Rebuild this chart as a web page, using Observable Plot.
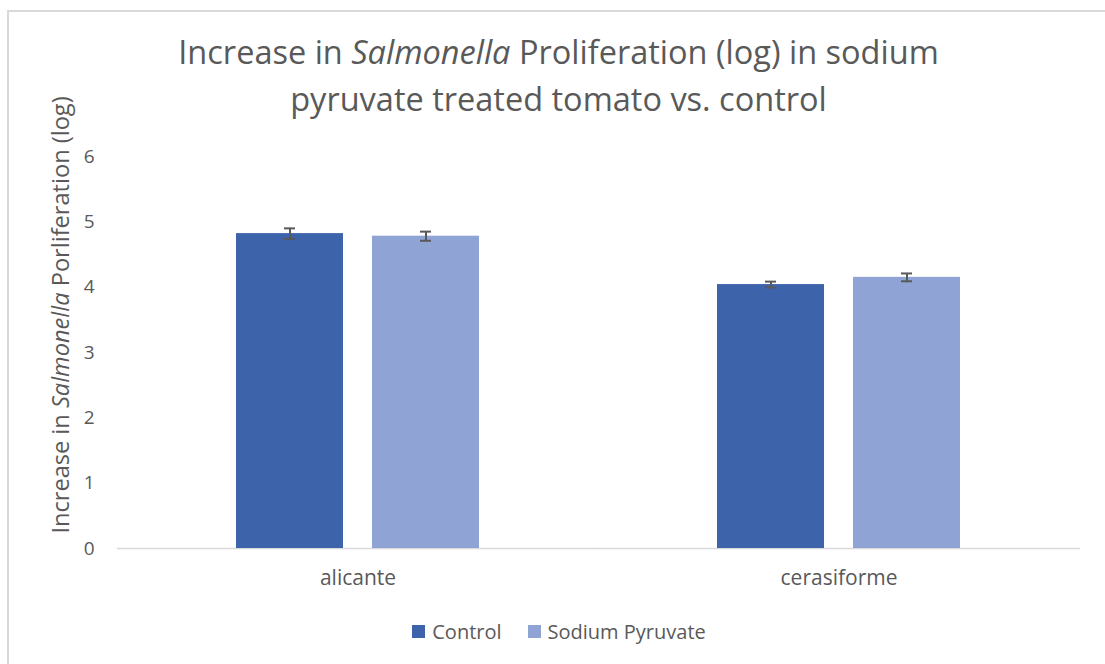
<!DOCTYPE html>
<html>
<head>
<meta charset="utf-8">
<script src="https://cdn.jsdelivr.net/npm/d3@7"></script>
<script src="https://cdn.jsdelivr.net/npm/@observablehq/plot@0.6"></script>
<style>
  html, body { margin: 0; padding: 0; background: #fff; }
  #wrap { position: relative; width: 1105px; height: 664px; overflow: hidden; font-family: "Open Sans", sans-serif; color: #595959; }
  #border { position: absolute; left: 7px; top: 10px; width: 1120px; height: 680px; border: 2px solid #d9d9d9; box-sizing: border-box; }
  #title { position: absolute; left: 0; width: 1117px; top: 28px; text-align: center; font-size: 32.5px; line-height: 47px; color: #595959; white-space: nowrap; }
  #chart { position: absolute; left: 0; top: 0; }
  #legend { position: absolute; left: 0; width: 1118px; top: 617px; text-align: center; font-size: 20px; color: #595959; white-space: nowrap; }
  .li { display: inline-flex; align-items: center; margin: 0 13px; }
  .sw { display: inline-block; width: 13px; height: 13px; margin-right: 7px; }
</style>
</head>
<body>
<div id="wrap">
  <div id="border"></div>
  <div id="chart"></div>
  <div id="title">Increase in <i>Salmonella</i> Proliferation (log) in sodium<br>pyruvate treated tomato vs. control</div>
  <div id="legend"></div>
</div>
<script>
const categories = ["alicante", "cerasiforme"];
const series = ["Control", "Sodium Pyruvate"];
const controlValues = [4.82, 4.04];
const pyruvateValues = [4.78, 4.15];
const controlErrors = [0.08, 0.045];
const pyruvateErrors = [0.07, 0.06];
const yTicks = [0, 1, 2, 3, 4, 5, 6];
const colors = ["#3d64ab", "#8fa3d4"];

const data = [];
categories.forEach((c, i) => {
  data.push({category: c, series: series[0], value: controlValues[i], err: controlErrors[i]});
  data.push({category: c, series: series[1], value: pyruvateValues[i], err: pyruvateErrors[i]});
});

const plot = Plot.plot({
  width: 1105,
  height: 664,
  marginTop: 156,
  marginBottom: 116,
  marginLeft: 117,
  marginRight: 25,
  style: {fontFamily: "'Open Sans', sans-serif", fontSize: "19px", color: "#595959", background: "transparent"},
  fx: {domain: categories, paddingInner: 0.49, paddingOuter: 0.245, label: null, axis: "bottom", tickSize: 0, tickPadding: 22},
  x: {domain: series, paddingInner: 0.21, paddingOuter: 0, axis: null},
  y: {domain: [0, 6], ticks: yTicks, tickFormat: d3.format("d"), tickSize: 0, tickPadding: 141, label: null},
  color: {domain: series, range: colors},
  marks: [
    Plot.ruleY([0], {stroke: "#d9d9d9", strokeWidth: 1.5, insetLeft: -118, insetRight: -119}),
    Plot.barY(data, {fx: "category", x: "series", y: "value", fill: "series"}),
    Plot.ruleX(data, {fx: "category", x: "series", y1: d => d.value - d.err, y2: d => d.value + d.err, stroke: "#595959", strokeWidth: 2}),
    Plot.tickY(data, {fx: "category", x: "series", y: d => d.value - d.err, stroke: "#595959", strokeWidth: 2, insetLeft: 48, insetRight: 48}),
    Plot.tickY(data, {fx: "category", x: "series", y: d => d.value + d.err, stroke: "#595959", strokeWidth: 2, insetLeft: 48, insetRight: 48})
  ]
});
document.getElementById("chart").appendChild(plot);

const svg = d3.select(plot);
svg.selectAll('[aria-label="fx-axis tick label"]').attr("font-size", 21);

// Y-axis title with italic species name
const t = svg.append("text")
  .attr("transform", "translate(63,315) rotate(-90)")
  .attr("text-anchor", "middle")
  .attr("dominant-baseline", "middle")
  .attr("fill", "#595959")
  .attr("font-size", 23.6);
t.append("tspan").text("Increase in ");
t.append("tspan").attr("font-style", "italic").text("Salmonella");
t.append("tspan").text(" Porliferation (log)");

// Legend
const legend = document.getElementById("legend");
series.forEach((s, i) => {
  const item = document.createElement("span");
  item.className = "li";
  const sw = document.createElement("span");
  sw.className = "sw";
  sw.style.background = colors[i];
  item.appendChild(sw);
  item.appendChild(document.createTextNode(s));
  legend.appendChild(item);
});
</script>
</body>
</html>
